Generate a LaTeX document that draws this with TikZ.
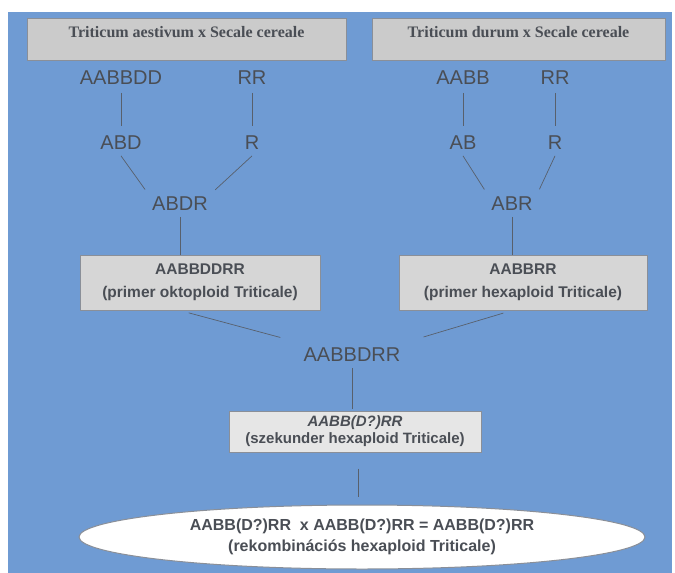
\documentclass[tikz,border=0pt]{standalone}
\usepackage{fontspec}
\setmainfont{Liberation Sans}
\newfontfamily\crossfont{Liberation Serif}
\usetikzlibrary{shapes.geometric}
\definecolor{bgblue}{HTML}{6F9BD3}
\definecolor{txtgray}{HTML}{4A4E55}
\definecolor{linegray}{HTML}{58606C}
\definecolor{boxgray}{HTML}{D6D6D6}
\definecolor{edgegray}{HTML}{8A8F98}

\begin{document}
\begin{tikzpicture}[x=1pt,y=-1pt,
    geno/.style={text=txtgray,font=\fontsize{20}{22}\selectfont,inner sep=1pt,outer sep=5pt},
    crossbox/.style={draw=edgegray,fill=boxgray!95!black,line width=1pt,text=txtgray,
      font=\crossfont\bfseries\fontsize{16}{18}\selectfont,text depth=14pt},
    ploidbox/.style={draw=edgegray,fill=boxgray,line width=1pt,text=txtgray,align=center,
      font=\bfseries\fontsize{15.5}{23}\selectfont,inner sep=0pt},
    link/.style={draw=linegray,line width=.7pt}]
  \useasboundingbox (0,0) rectangle (675,573);
  \fill[bgblue] (8,12) rectangle (672,573);

  % parents
  \node[crossbox,minimum width=319pt,minimum height=42pt] (aestivum) at (186.5,39) {Triticum aestivum x Secale cereale};
  \node[crossbox,minimum width=293pt,minimum height=42pt] (durum) at (518.5,39) {Triticum durum x Secale cereale};

  \node[geno] (aabbdd) at (121,78) {AABBDD};
  \node[geno] (rr1) at (252,78) {RR};
  \node[geno] (aabb) at (463,78) {AABB};
  \node[geno] (rr2) at (555,78) {RR};

  \node[geno] (abd) at (121,143) {ABD};
  \node[geno] (r1) at (252,143) {R};
  \node[geno] (ab) at (463,143) {AB};
  \node[geno] (r2) at (555,143) {R};

  \node[geno] (abdr) at (180,204) {ABDR};
  \node[geno] (abr) at (512,204) {ABR};

  \draw[link,shorten <=2pt,shorten >=4pt] (aabbdd) -- (abd);
  \draw[link,shorten <=2pt,shorten >=4pt] (rr1) -- (r1);
  \draw[link,shorten <=2pt,shorten >=4pt] (aabb) -- (ab);
  \draw[link,shorten <=2pt,shorten >=4pt] (rr2) -- (r2);
  \draw[link,shorten >=2pt] (abd.south) -- (abdr.north west);
  \draw[link,shorten >=2pt] (r1.south) -- (abdr.north east);
  \draw[link,shorten >=2pt] (ab.south) -- (abr.north west);
  \draw[link,shorten >=2pt] (r2.south) -- (abr.north east);

  % primer triticale
  \node[ploidbox,minimum width=240pt,minimum height=55pt] (okto) at (200,282.5) {AABBDDRR\\(primer oktoploid Triticale)};
  \node[ploidbox,minimum width=248pt,minimum height=55pt] (hexa) at (523,282.5) {AABBRR\\(primer hexaploid Triticale)};
  \draw[link] (abdr) -- (abdr |- okto.north);
  \draw[link] (abr) -- (abr |- hexa.north);

  \node[geno] (aabbdrr) at (352,355) {AABBDRR};
  \draw[link,shorten <=9pt,shorten >=18pt] (okto.south -| abdr) -- (aabbdrr.north west);
  \draw[link,shorten <=9pt,shorten >=18pt] (hexa.south -| abr) -- (aabbdrr.north east);

  % szekunder
  \node[ploidbox,fill=boxgray!60!white,minimum width=252pt,minimum height=41pt,
    font=\bfseries\fontsize{15}{17}\selectfont] (szek) at (355,431.5) {\textit{AABB(D?)RR}\\(szekunder hexaploid Triticale)};
  \draw[link,shorten >=2pt] (aabbdrr) -- (aabbdrr |- szek.north);

  % rekombinacios
  \node[ellipse,draw=edgegray,fill=white,line width=1pt,minimum width=566pt,minimum height=64pt,
    text=txtgray,align=center,font=\bfseries\fontsize{16}{21}\selectfont,inner sep=0pt] (rekomb) at (362,537)
    {AABB(D?)RR \ x AABB(D?)RR = AABB(D?)RR\\(rekombinációs hexaploid Triticale)};
  \draw[link,shorten <=16pt,shorten >=8pt] (szek.south -| 358,0) -- (rekomb.north -| 358,0);
\end{tikzpicture}
\end{document}
